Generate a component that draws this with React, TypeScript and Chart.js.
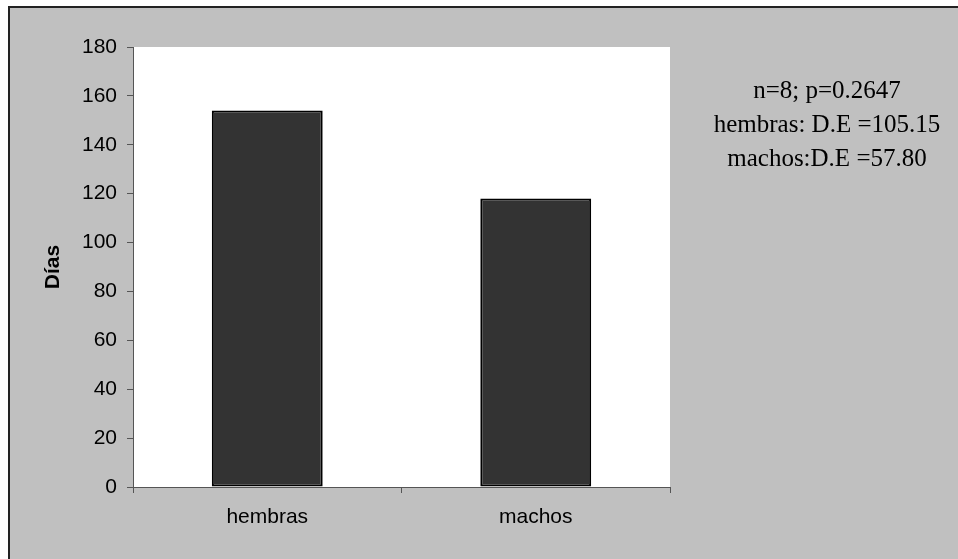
import React, { useEffect, useRef } from "react";
import { Chart, registerables } from "chart.js";

Chart.register(...registerables);

const categories = ["hembras", "machos"];
const values = [154, 118];
const yTitle = "Días";
const noteLines = ["n=8; p=0.2647", "hembras: D.E =105.15", "machos:D.E =57.80"];

const framePlugin = {
  id: "frame",
  beforeDraw(chart: any) {
    const { ctx, width, height, chartArea } = chart;
    ctx.save();
    ctx.fillStyle = "#ffffff";
    ctx.fillRect(0, 0, width, height);
    ctx.fillStyle = "#c0c0c0";
    ctx.fillRect(8, 6, width - 8, height - 6);
    ctx.fillStyle = "#222222";
    ctx.fillRect(8, 6, width - 8, 2);
    ctx.fillRect(8, 6, 2, height - 6);
    ctx.fillStyle = "#ffffff";
    ctx.fillRect(chartArea.left, chartArea.top, chartArea.right - chartArea.left, chartArea.bottom - chartArea.top);
    ctx.restore();
  },
  afterDraw(chart: any) {
    const { ctx } = chart;
    ctx.save();
    ctx.fillStyle = "#000000";
    ctx.font = '25px "Liberation Serif"';
    ctx.textAlign = "center";
    ctx.textBaseline = "alphabetic";
    noteLines.forEach((line, i) => {
      ctx.fillText(line, 827, 98 + i * 34);
    });
    ctx.restore();
  },
};

export default function App() {
  const ref = useRef<HTMLCanvasElement>(null);
  useEffect(() => {
    if (!ref.current) return;
    const chart = new Chart(ref.current, {
      type: "bar",
      data: {
        labels: categories,
        datasets: [
          {
            data: values,
            backgroundColor: "#333333",
            borderColor: "#000000",
            borderWidth: 2,
            borderSkipped: false,
            categoryPercentage: 1,
            barPercentage: 0.413,
          },
        ],
      },
      options: {
        responsive: false,
        animation: false,
        layout: { padding: { top: 47, right: 288, bottom: 0, left: 0 } },
        plugins: { legend: { display: false }, tooltip: { enabled: false } },
        scales: {
          x: {
            offset: true,
            grid: { display: true, drawOnChartArea: false, tickLength: 6, tickColor: "#555555", offset: true },
            border: { color: "#555555", width: 1 },
            ticks: { color: "#000000", font: { family: "Liberation Sans", size: 21 }, padding: 12 },
            afterFit(scale: any) {
              scale.height = 72;
            },
          },
          y: {
            min: 0,
            max: 180,
            ticks: { stepSize: 20, color: "#000000", font: { family: "Liberation Sans", size: 21 }, padding: 10 },
            grid: { display: true, drawOnChartArea: false, tickLength: 6, tickColor: "#555555" },
            border: { color: "#555555", width: 1 },
            title: {
              display: true,
              text: yTitle,
              color: "#000000",
              font: { family: "Liberation Sans", size: 21, weight: "bold" },
              padding: { top: 41, bottom: 0 },
            },
            afterFit(scale: any) {
              scale.width = 133;
            },
          },
        },
      },
      plugins: [framePlugin],
    });
    return () => chart.destroy();
  }, []);
  return (
    <canvas
      ref={ref}
      width={958}
      height={559}
      style={{ position: "absolute", left: 0, top: 0, width: 958, height: 559 }}
    />
  );
}
